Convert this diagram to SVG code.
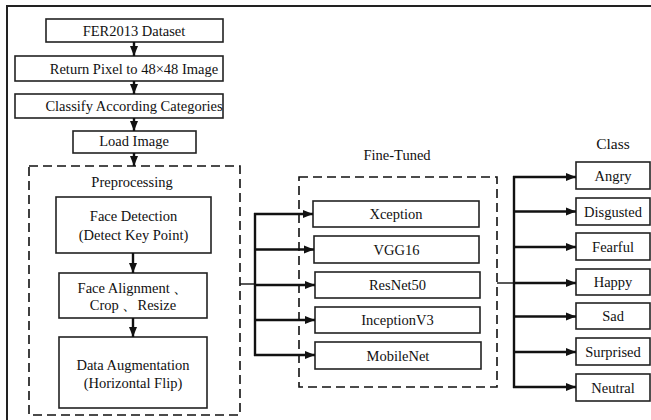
<svg xmlns="http://www.w3.org/2000/svg" width="651" height="420" viewBox="0 0 651 420" font-family="'Liberation Serif','Times New Roman',Tinos,'DejaVu Serif',serif">
<defs>
<marker id="ah" markerUnits="userSpaceOnUse" markerWidth="10" markerHeight="10" viewBox="0 0 10 10" refX="10" refY="5" orient="auto">
<path d="M0,1 L10,5 L0,9 Z" fill="#111"/>
</marker>
</defs>
<style>
text{font-family:'Liberation Serif','Times New Roman',Tinos,'DejaVu Serif',serif;font-size:14.5px;fill:#111;text-anchor:middle;dominant-baseline:central}
.box{fill:#fff;stroke:#222;stroke-width:1.6}
.dash{fill:none;stroke:#111;stroke-width:1.6;stroke-dasharray:9,5}
.c{fill:none;stroke:#111;stroke-width:2.4}
.a{fill:none;stroke:#111;stroke-width:2.4;marker-end:url(#ah)}
.thin{fill:none;stroke:#111;stroke-width:1.4}
</style>
<rect width="651" height="420" fill="#fff"/>
<path d="M7,420 L7,6 L651,6" fill="none" stroke="#222" stroke-width="2"/>

<g id="fer2013"><rect class="box" x="46" y="19" width="177" height="23"/><text x="134" y="31">FER2013 Dataset</text></g>
<g id="return-pixel"><rect class="box" x="15" y="56" width="208" height="25"/><text x="134" y="68.5">Return Pixel to 48×48 Image</text></g>
<g id="classify"><rect class="box" x="15" y="94" width="208" height="24"/><text x="134" y="105.5">Classify According Categories</text></g>
<g id="load-image"><rect class="box" x="73" y="131" width="123" height="22"/><text x="134" y="141">Load Image</text></g>

<g id="preprocessing"><rect class="dash" x="29" y="166" width="211" height="249"/><text x="132" y="182">Preprocessing</text></g>
<g id="face-detection"><rect class="box" x="56" y="197" width="155" height="56"/><text x="133.5" y="216">Face Detection</text><text x="133.5" y="235">(Detect Key Point)</text></g>
<g id="face-alignment"><rect class="box" x="59" y="273" width="148" height="45"/><text x="133" y="288">Face Alignment 、</text><text x="133" y="305">Crop 、Resize</text></g>
<g id="data-augmentation"><rect class="box" x="59" y="337" width="148" height="71"/><text x="133" y="365">Data Augmentation</text><text x="133" y="383">(Horizontal Flip)</text></g>

<g id="fine-tuned"><rect class="dash" x="299" y="177" width="198" height="210"/><text x="397" y="155">Fine-Tuned</text></g>
<g id="xception"><rect class="box" x="313" y="201" width="166" height="26"/><text x="396" y="214">Xception</text></g>
<g id="vgg16"><rect class="box" x="314" y="236" width="165" height="27"/><text x="396.5" y="249.5">VGG16</text></g>
<g id="resnet50"><rect class="box" x="315" y="272" width="165" height="26"/><text x="397.5" y="285">ResNet50</text></g>
<g id="inceptionv3"><rect class="box" x="315" y="307" width="165" height="26"/><text x="397.5" y="320">InceptionV3</text></g>
<g id="mobilenet"><rect class="box" x="315" y="342" width="166" height="27"/><text x="398" y="355.5">MobileNet</text></g>

<text x="613" y="143" style="font-size:15.5px">Class</text>
<g id="angry"><rect class="box" x="576" y="162" width="74" height="27"/><text x="613" y="175.5">Angry</text></g>
<g id="disgusted"><rect class="box" x="576" y="198" width="74" height="27"/><text x="613" y="211.5">Disgusted</text></g>
<g id="fearful"><rect class="box" x="576" y="233" width="74" height="27"/><text x="613" y="246.5">Fearful</text></g>
<g id="happy"><rect class="box" x="576" y="269" width="74" height="26"/><text x="613" y="282">Happy</text></g>
<g id="sad"><rect class="box" x="576" y="303" width="74" height="26"/><text x="613" y="316">Sad</text></g>
<g id="surprised"><rect class="box" x="576" y="338" width="74" height="27"/><text x="613" y="351.5">Surprised</text></g>
<g id="neutral"><rect class="box" x="576" y="374" width="74" height="27"/><text x="613" y="387.5">Neutral</text></g>

<g id="connectors">
<line class="a" x1="134" y1="42" x2="134" y2="56"/>
<line class="a" x1="134" y1="81" x2="134" y2="94"/>
<line class="a" x1="134" y1="118" x2="134" y2="131"/>
<line class="a" x1="134" y1="153" x2="134" y2="166"/>
<line class="a" x1="133" y1="253" x2="133" y2="273"/>
<line class="a" x1="133" y1="318" x2="133" y2="337"/>
<line class="thin" x1="240" y1="284" x2="255" y2="284"/>
<line class="c" x1="255" y1="213" x2="255" y2="356"/>
<line class="a" x1="254" y1="214" x2="313" y2="214"/>
<line class="a" x1="254" y1="249.5" x2="314" y2="249.5"/>
<line class="a" x1="254" y1="285" x2="315" y2="285"/>
<line class="a" x1="254" y1="320" x2="315" y2="320"/>
<line class="a" x1="254" y1="355" x2="315" y2="355"/>
<line class="thin" x1="497" y1="283" x2="514" y2="283"/>
<line class="c" x1="514" y1="176" x2="514" y2="388"/>
<line class="a" x1="513" y1="177" x2="576" y2="177"/>
<line class="a" x1="513" y1="211.5" x2="576" y2="211.5"/>
<line class="a" x1="513" y1="247" x2="576" y2="247"/>
<line class="a" x1="513" y1="283" x2="576" y2="283"/>
<line class="a" x1="513" y1="316.5" x2="576" y2="316.5"/>
<line class="a" x1="513" y1="352" x2="576" y2="352"/>
<line class="a" x1="513" y1="387" x2="576" y2="387"/>
</g>
</svg>
